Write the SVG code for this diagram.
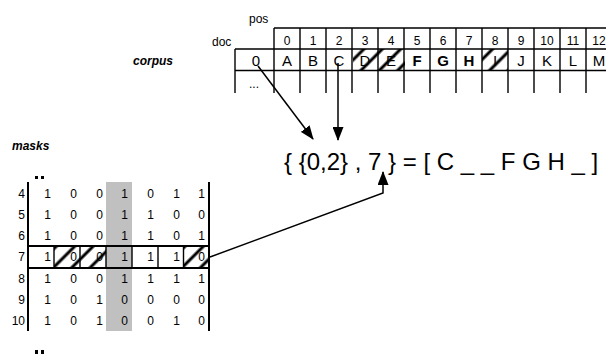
<svg xmlns="http://www.w3.org/2000/svg" width="606" height="354" viewBox="0 0 606 354">
<style>
text{font-family:"Liberation Sans",Arial,sans-serif;fill:#000}
.hd{font-size:12px;text-anchor:middle}
.lt{font-size:15px;text-anchor:middle}
.b{font-weight:bold}
.lbl{font-size:12px;font-weight:bold;font-style:italic}
.sm{font-size:12px}
.v{font-size:12px;text-anchor:end}
.rn{font-size:12px;text-anchor:end}
.ln{stroke:#000;stroke-width:1.4;fill:none}
.thk{stroke:#000;stroke-width:2;fill:none}
.hatch{fill:url(#hatch);stroke:none}
.conn{stroke:#000;stroke-width:1.5;fill:none;marker-end:url(#arr)}
.fm{font-size:24px}
</style>
<defs>
<pattern id="hatch" patternUnits="userSpaceOnUse" width="13" height="13" patternTransform="rotate(45)">
<line x1="6" y1="0" x2="6" y2="13" stroke="#000" stroke-width="3"/>
</pattern>
<marker id="arr" markerWidth="14" markerHeight="11" refX="13" refY="5.5" orient="auto" markerUnits="userSpaceOnUse">
<path d="M0,0 L14,5.5 L0,11 Z" fill="#000"/>
</marker>
</defs>
<rect width="606" height="354" fill="#fff"/>

<g id="corpus">
<text class="sm" x="249" y="23">pos</text>
<text class="sm" x="212" y="46">doc</text>
<text class="lbl" x="133" y="65">corpus</text>
<g>
<text class="hd" x="287" y="45">0</text><text class="hd" x="313" y="45">1</text><text class="hd" x="339" y="45">2</text><text class="hd" x="365" y="45">3</text><text class="hd" x="391" y="45">4</text><text class="hd" x="417" y="45">5</text><text class="hd" x="443" y="45">6</text><text class="hd" x="469" y="45">7</text><text class="hd" x="495" y="45">8</text><text class="hd" x="521" y="45">9</text><text class="hd" x="547" y="45">10</text><text class="hd" x="573" y="45">11</text><text class="hd" x="599" y="45">12</text>
</g>
<g>
<text class="lt" x="256" y="66">0</text>
<text class="lt" x="287" y="66">A</text><text class="lt" x="313" y="66">B</text><text class="lt" x="339" y="66">C</text><text class="lt" x="365" y="66">D</text><text class="lt" x="391" y="66">E</text><text class="lt b" x="417" y="66">F</text><text class="lt b" x="443" y="66">G</text><text class="lt b" x="469" y="66">H</text><text class="lt" x="495" y="66">I</text><text class="lt" x="521" y="66">J</text><text class="lt" x="547" y="66">K</text><text class="lt" x="573" y="66">L</text><text class="lt" x="599" y="66">M</text>
<text class="sm" x="249" y="88">...</text>
</g>
<rect class="hatch" x="353" y="49" width="52" height="21.5"/>
<rect class="hatch" x="482" y="49" width="26" height="21.5"/>
<path class="ln" d="M274 28H606M235 49H606M235 70.5H606M235 49V93M274 28V93M300 28V93M326 28V93M352 28V93M378 28V93M404 28V93M430 28V93M456 28V93M482 28V93M508 28V93M534 28V93M560 28V93M586 28V93"/>
</g>

<g id="formula">
<text class="fm" x="284" y="170">{ {0,2} , 7 } = [ C _ _ F G H _ ]</text>
</g>

<g id="masks">
<text class="lbl" x="12" y="150">masks</text>
<rect x="35" y="176" width="3" height="3" fill="#000"/><rect x="41" y="176" width="3" height="3" fill="#000"/>
<rect x="35" y="350" width="3" height="4" fill="#000"/><rect x="41" y="350" width="3" height="4" fill="#000"/>
<rect x="106" y="182" width="26" height="149" fill="#c0c0c0"/>
<g>
<text class="rn" x="25" y="198">4</text><text class="rn" x="25" y="219">5</text><text class="rn" x="25" y="240">6</text><text class="rn" x="25" y="261">7</text><text class="rn" x="25" y="283">8</text><text class="rn" x="25" y="304">9</text><text class="rn" x="25" y="325">10</text>
</g>
<g>
<text class="v" x="51" y="198">1</text><text class="v" x="77" y="198">0</text><text class="v" x="103" y="198">0</text><text class="v" x="128" y="198">1</text><text class="v" x="154" y="198">0</text><text class="v" x="180" y="198">1</text><text class="v" x="205" y="198">1</text>
<text class="v" x="51" y="219">1</text><text class="v" x="77" y="219">0</text><text class="v" x="103" y="219">0</text><text class="v" x="128" y="219">1</text><text class="v" x="154" y="219">1</text><text class="v" x="180" y="219">0</text><text class="v" x="205" y="219">0</text>
<text class="v" x="51" y="240">1</text><text class="v" x="77" y="240">0</text><text class="v" x="103" y="240">0</text><text class="v" x="128" y="240">1</text><text class="v" x="154" y="240">1</text><text class="v" x="180" y="240">0</text><text class="v" x="205" y="240">1</text>
<text class="v" x="51" y="261">1</text><text class="v" x="77" y="261">0</text><text class="v" x="103" y="261">0</text><text class="v" x="128" y="261">1</text><text class="v" x="154" y="261">1</text><text class="v" x="180" y="261">1</text><text class="v" x="205" y="261">0</text>
<text class="v" x="51" y="283">1</text><text class="v" x="77" y="283">0</text><text class="v" x="103" y="283">0</text><text class="v" x="128" y="283">1</text><text class="v" x="154" y="283">1</text><text class="v" x="180" y="283">1</text><text class="v" x="205" y="283">1</text>
<text class="v" x="51" y="304">1</text><text class="v" x="77" y="304">0</text><text class="v" x="103" y="304">1</text><text class="v" x="128" y="304">0</text><text class="v" x="154" y="304">0</text><text class="v" x="180" y="304">0</text><text class="v" x="205" y="304">0</text>
<text class="v" x="51" y="325">1</text><text class="v" x="77" y="325">0</text><text class="v" x="103" y="325">1</text><text class="v" x="128" y="325">0</text><text class="v" x="154" y="325">0</text><text class="v" x="180" y="325">1</text><text class="v" x="205" y="325">0</text>
</g>
<rect class="hatch" x="54" y="246" width="52" height="22"/>
<rect class="hatch" x="183.5" y="246" width="25.5" height="22"/>
<path class="ln" d="M54 246V268M80 246V268M106 246V268M132 246V268M158 246V268M183.5 246V268"/>
<path class="thk" d="M28 246H209M28 268H209M28 182V331M209 182V331"/>
</g>

<g id="connectors">
<path class="conn" d="M258 66L313 139"/>
<path class="conn" d="M338 63V140"/>
<path class="conn" d="M210 257L383 193V172"/>
</g>
</svg>
